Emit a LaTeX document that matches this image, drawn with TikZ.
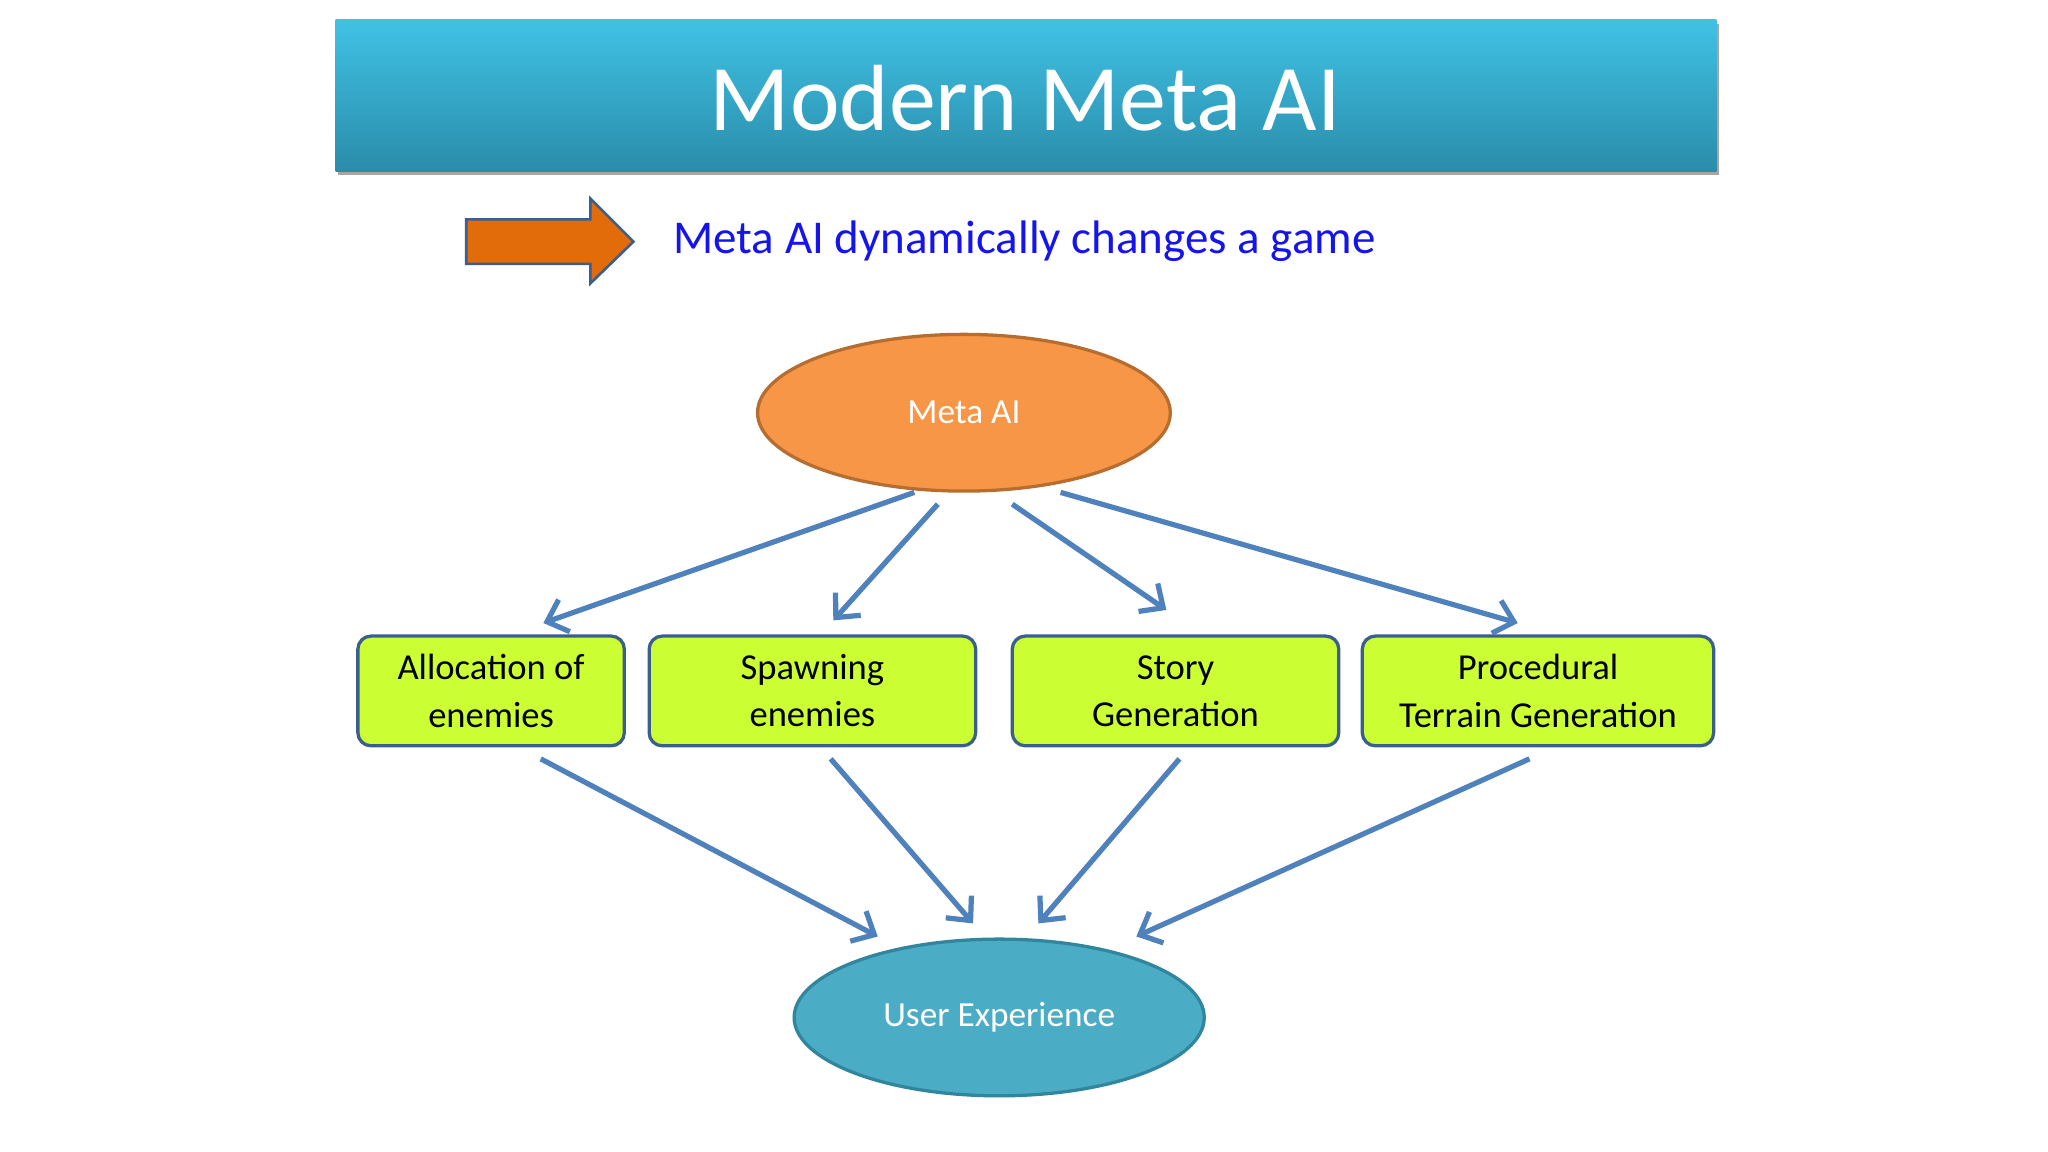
\documentclass[tikz,border=0pt]{standalone}
\usepackage{fontspec}
\setmainfont{Carlito}
\usetikzlibrary{arrows.meta,shapes.geometric}
\definecolor{arr}{HTML}{4F81BD}
\definecolor{boxf}{HTML}{CCFF33}
\definecolor{boxd}{HTML}{3A5F8A}
\definecolor{ttop}{RGB}{64,194,229}
\definecolor{tbot}{RGB}{42,140,170}
\definecolor{orf}{RGB}{227,108,10}
\definecolor{subc}{RGB}{20,20,235}
\definecolor{mfill}{RGB}{247,150,70}
\definecolor{mdraw}{RGB}{182,109,48}
\definecolor{ufill}{RGB}{75,172,198}
\definecolor{udraw}{RGB}{49,133,156}
\begin{document}
\begin{tikzpicture}[x=1pt,y=-1pt,
  conn/.style={arr,line width=4pt,-{Straight Barb[length=14pt,width=26pt,line width=4pt]}},
  box/.style={draw=boxd,line width=2.5pt,fill=boxf,rounded corners=10pt,minimum height=84pt,align=center,font=\fontsize{28}{36}\selectfont,inner sep=0pt}]
\useasboundingbox (0,0) rectangle (1568,882);
\fill[white] (0,0) rectangle (1568,882);
% title
\fill[black!35] (259,18) rectangle (1316,134);
\shade[top color=ttop,bottom color=tbot] (257,15) rectangle (1314,131);
\node[white,font=\fontsize{72}{80}\selectfont] (title) at (785,75) {Modern Meta AI};
% orange arrow
\draw[fill=orf,draw=boxd,line width=2pt] (357,168) -- (452,168) -- (452,152) -- (485,185) -- (452,217) -- (452,202) -- (357,202) -- cycle;
\node[anchor=west,text=subc,font=\fontsize{36}{40}\selectfont] (sub) at (512,185) {Meta AI dynamically changes a game};
% ellipses
\node[ellipse,draw=mdraw,line width=2.5pt,fill=mfill,minimum width=316pt,minimum height=120pt,text=white,font=\fontsize{27}{30}\selectfont] (meta) at (738,316) {Meta AI};
\node[ellipse,draw=udraw,line width=2.5pt,fill=ufill,minimum width=314pt,minimum height=120pt,text=white,font=\fontsize{27}{30}\selectfont] (ux) at (765,779) {User Experience};
% boxes
\node[box,minimum width=204pt] (b1) at (376,529) {Allocation of\\enemies};
\node[box,minimum width=250pt] (b2) at (622,529) {Spawning\\enemies};
\node[box,minimum width=250pt] (b3) at (900,529) {Story\\Generation};
\node[box,minimum width=269pt] (b4) at (1177.5,529) {Procedural\\Terrain Generation};
% connector endpoints
\coordinate (m1) at (700,377); \coordinate (t1) at (416,477);
\coordinate (m2) at (718,386); \coordinate (t2) at (638,475);
\coordinate (m3) at (775,386); \coordinate (t3) at (893,467);
\coordinate (m4) at (812,377); \coordinate (t4) at (1162,477);
\coordinate (s1) at (414,581); \coordinate (u1) at (672,717);
\coordinate (s2) at (636,581); \coordinate (u2) at (745,707);
\coordinate (s3) at (903,581); \coordinate (u3) at (795,707);
\coordinate (s4) at (1171,581); \coordinate (u4) at (870,717);
\foreach \a/\b in {m1/t1,m2/t2,m3/t3,m4/t4,s1/u1,s2/u2,s3/u3,s4/u4}
  \draw[conn] (\a) -- (\b);
\end{tikzpicture}
\end{document}
